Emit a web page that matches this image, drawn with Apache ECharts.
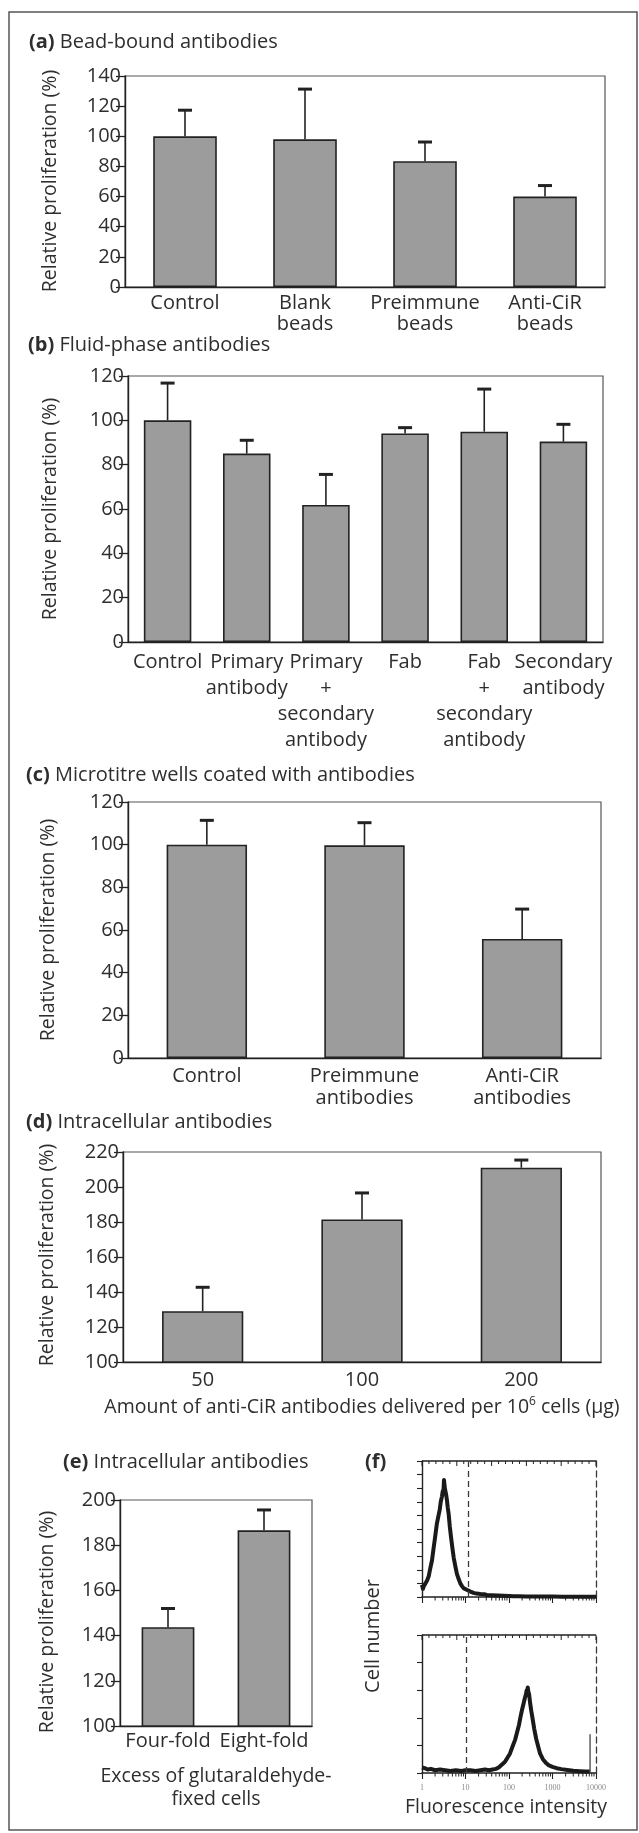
<!DOCTYPE html>
<html>
<head>
<meta charset="utf-8">
<script src="https://cdn.jsdelivr.net/npm/echarts@6.0.0/dist/echarts.min.js"></script>
<style>
  html, body { margin: 0; padding: 0; background: #ffffff; }
  #fig { width: 639px; height: 1833px; }
</style>
</head>
<body>
<div id="fig"></div>
<script>
// ---- (a) bead-bound antibodies ----
const catsA = ['Control', 'Blank\nbeads', 'Preimmune\nbeads', 'Anti-CiR\nbeads'];
const meanA = [100, 98, 83.5, 60];
const errA  = [17.3, 33.3, 12.7, 7.3];

// ---- (b) fluid-phase antibodies ----
const catsB = ['Control', 'Primary\nantibody', 'Primary\n+\nsecondary\nantibody', 'Fab', 'Fab\n+\nsecondary\nantibody', 'Secondary\nantibody'];
const meanB = [100, 85, 61.8, 94.1, 94.9, 90.4];
const errB  = [16.8, 6, 13.8, 2.6, 19.2, 7.8];

// ---- (c) microtitre wells coated with antibodies ----
const catsC = ['Control', 'Preimmune\nantibodies', 'Anti-CiR\nantibodies'];
const meanC = [100, 99.7, 55.8];
const errC  = [11.4, 10.6, 14];

// ---- (d) intracellular antibodies, dose ----
const catsD = ['50', '100', '200'];
const meanD = [129, 181.5, 211];
const errD  = [13.7, 15.1, 4.4];

// ---- (e) intracellular antibodies, fixed-cell excess ----
const catsE = ['Four-fold', 'Eight-fold'];
const meanE = [143.7, 186.6];
const errE  = [8.3, 9];

// ---- (f) flow cytometry histograms (fluorescence intensity, % of max count) ----
const fluorTopX = [1.0, 1.05, 1.1, 1.15, 1.2, 1.3, 1.42, 1.55, 1.7, 1.85, 2.0, 2.2, 2.4, 2.55, 2.7, 2.88, 3.0, 3.08, 3.14, 3.2, 3.25, 3.3, 3.35, 3.45, 3.6, 3.75, 3.9, 4.1, 4.35, 4.65, 5.0, 5.35, 5.8, 6.35, 7.0, 7.6, 8.3, 9.0, 10, 11.2, 13, 15.3, 18, 22, 27, 31, 40, 55, 75, 100, 127, 170, 250, 400, 650, 1050, 1600, 2500, 4000, 6500, 10000];
const fluorTopY = [9, 6, 8, 7, 10, 12, 15, 21, 27, 36, 44, 54, 60, 64, 70, 74, 78, 76, 80, 86, 84, 82, 80, 78, 75, 71, 66, 61, 52, 44, 36, 29, 23, 17, 13, 10, 8, 6.5, 6, 5, 4, 3, 2.5, 2.2, 2, 1.5, 1.3, 1.1, 1, 0.8, 0.6, 0.5, 0.4, 0.4, 0.3, 0.3, 0.2, 0.2, 0.2, 0.2, 0.2];
const fluorBotX = [1.0, 1.15, 1.35, 1.6, 2.0, 2.6, 3.4, 4.5, 6, 8, 10, 13, 17, 22, 28, 35, 42, 50, 58, 68, 80, 92, 105, 120, 138, 155, 170, 185, 200, 215, 230, 245, 255, 262, 270, 278, 290, 305, 325, 350, 380, 420, 470, 520, 600, 700, 830, 1000, 1250, 1600, 2200, 3000, 4200, 5800, 7200];
const fluorBotY = [4, 3.5, 2.5, 3, 2, 2.5, 2, 1.5, 2, 1.5, 2, 2, 1.5, 2, 2.5, 2, 2.5, 3, 4, 6, 8, 11, 14, 19, 24, 30, 35, 41, 46, 50, 54, 57, 60, 58, 62, 59, 57, 51, 45, 39, 32, 25, 19, 14, 10, 7.5, 5.5, 4.5, 3.5, 2.8, 2.2, 1.6, 1.3, 1, 1];
const fluorSpike = [7300, 28];          // saturated events at the top of the scale
const fluorGate = [11.5, 10.5];         // marker position in each histogram
const logMinorTicks = [2, 3, 4, 5, 6, 7, 8, 9, 20, 30, 40, 50, 60, 70, 80, 90, 200, 300, 400, 500, 600, 700, 800, 900, 2000, 3000, 4000, 5000, 6000, 7000, 8000, 9000];
const channelTickCount = 25;            // evenly spaced channel ticks along the top edge

const FONT = '"Open Sans", Lato, sans-serif';
const TXT = '#2e2e2e';
const INK = '#222222';
const BAR = '#9c9c9c';

const grids = [], xAxes = [], yAxes = [], series = [], titles = [], graphics = [];

function errorBarItem(params, api) {
  const i = api.value(0);
  const p0 = api.coord([i, api.value(1)]);
  const p1 = api.coord([i, api.value(2)]);
  return {
    type: 'group',
    children: [
      { type: 'line', shape: { x1: p0[0], y1: p0[1], x2: p1[0], y2: p1[1] }, style: { stroke: INK, lineWidth: 1.6 } },
      { type: 'line', shape: { x1: p1[0] - 7, y1: p1[1], x2: p1[0] + 7, y2: p1[1] }, style: { stroke: INK, lineWidth: 3 } }
    ]
  };
}

function addBarPanel(p) {
  const gi = grids.length;
  grids.push({ left: p.box[0], top: p.box[1], width: p.box[2], height: p.box[3],
    show: true, borderColor: '#555', borderWidth: 1.2, backgroundColor: 'transparent' });
  const xi = xAxes.length;
  const xAxis = {
    gridIndex: gi, type: 'category', data: p.cats,
    axisTick: { show: false },
    axisLine: { onZero: false, lineStyle: { color: INK, width: 1.4 } },
    axisLabel: { interval: 0, color: TXT, fontFamily: FONT, fontSize: 20, lineHeight: p.lh, margin: p.margin }
  };
  if (p.xName) {
    xAxis.name = p.xName;
    xAxis.nameLocation = 'middle';
    xAxis.nameGap = p.nameGap;
    xAxis.nameTextStyle = { color: TXT, fontFamily: FONT, fontSize: 19.5, lineHeight: 23,
      rich: { sup: { fontFamily: FONT, fontSize: 12, color: TXT, verticalAlign: 'top', lineHeight: 23 } } };
  }
  xAxes.push(xAxis);
  const yi = yAxes.length;
  yAxes.push({
    gridIndex: gi, type: 'value', min: p.y[0], max: p.y[1], interval: p.y[2],
    axisLine: { show: true, onZero: false, lineStyle: { color: INK, width: 1.4 } },
    axisTick: { show: true, length: 9, lineStyle: { color: INK, width: 1.3 } },
    axisLabel: { color: TXT, fontFamily: FONT, fontSize: 20, margin: 4 },
    splitLine: { show: false }
  });
  series.push({
    type: 'bar', xAxisIndex: xi, yAxisIndex: yi, data: p.mean, barWidth: p.bw,
    itemStyle: { color: BAR, borderColor: INK, borderWidth: 1.6 }, silent: true
  });
  series.push({
    type: 'custom', xAxisIndex: xi, yAxisIndex: yi, z: 5, silent: true,
    data: p.mean.map((m, i) => [i, m, m + p.err[i]]),
    renderItem: errorBarItem
  });
}

// short log-decade minor ticks below the intensity axis
function minorTickItem(params, api) {
  const pt = api.coord([api.value(0), 0]);
  return { type: 'line', shape: { x1: pt[0], y1: pt[1], x2: pt[0], y2: pt[1] + 3.5 }, style: { stroke: INK, lineWidth: 1 } };
}

// solid top edge of a histogram frame with inward channel ticks
function topEdgeItem(params, api) {
  const cs = params.coordSys;
  const kids = [{ type: 'line', shape: { x1: cs.x, y1: cs.y, x2: cs.x + cs.width, y2: cs.y }, style: { stroke: INK, lineWidth: 1.4 } }];
  for (let k = 0; k <= channelTickCount; k++) {
    const x = cs.x + cs.width * k / channelTickCount;
    const len = k % 5 === 0 ? 5 : 3;
    kids.push({ type: 'line', shape: { x1: x, y1: cs.y, x2: x, y2: cs.y + len }, style: { stroke: INK, lineWidth: 1 } });
  }
  return { type: 'group', children: kids };
}

function addFlowPanel(p) {
  const gi = grids.length;
  grids.push({ left: p.box[0], top: p.box[1], width: p.box[2], height: p.box[3], show: false });
  const xi = xAxes.length;
  xAxes.push({
    gridIndex: gi, type: 'log', logBase: 10, min: 1, max: 10000, position: 'bottom',
    axisLine: { show: true, onZero: false, lineStyle: { color: INK, width: 1.5 } },
    axisTick: { show: true, length: 6, lineStyle: { color: INK, width: 1.1 } },
    axisLabel: p.labels
      ? { show: true, fontSize: 8, color: '#8a8a8a', fontFamily: '"Liberation Serif", serif', margin: 11,
          formatter: v => String(Math.round(v)) }
      : { show: false },
    splitLine: { show: false }
  });
  const yi = yAxes.length;
  yAxes.push({
    gridIndex: gi, type: 'value', min: 0, max: 100, interval: p.yInterval, position: 'left',
    axisLine: { show: true, onZero: false, lineStyle: { color: INK, width: 1.4 } },
    axisTick: { show: true, length: 5, lineStyle: { color: INK, width: 1.1 } },
    axisLabel: { show: false }, splitLine: { show: false }
  });
  yAxes.push({
    gridIndex: gi, type: 'value', min: 0, max: 100, position: 'right',
    axisLine: { show: true, onZero: false, lineStyle: { color: '#3a3a3a', width: 1.3, type: [6, 4] } },
    axisTick: { show: false }, axisLabel: { show: false }, splitLine: { show: false }
  });
  series.push({
    type: 'line', xAxisIndex: xi, yAxisIndex: yi, showSymbol: false, silent: true,
    data: p.xs.map((x, i) => [x, p.ys[i]]),
    lineStyle: { color: '#1a1a1a', width: 4, join: 'round' },
    markLine: {
      silent: true, symbol: ['none', 'none'], label: { show: false },
      lineStyle: { color: '#3a3a3a', width: 1.3, type: [6, 4] },
      data: [{ xAxis: p.gate }]
    }
  });
  series.push({
    type: 'custom', xAxisIndex: xi, yAxisIndex: yi, silent: true,
    data: logMinorTicks.map(v => [v]), renderItem: minorTickItem
  });
  series.push({
    type: 'custom', xAxisIndex: xi, yAxisIndex: yi, silent: true,
    data: [[1, 100]], renderItem: topEdgeItem
  });
  if (p.spike) {
    series.push({
      type: 'line', xAxisIndex: xi, yAxisIndex: yi, showSymbol: false, silent: true,
      data: [[p.spike[0], 0], [p.spike[0], p.spike[1]]],
      lineStyle: { color: '#333', width: 1.2 }
    });
  }
}

function panelTitle(tag, text, x, cy) {
  titles.push({
    text: '{b|' + tag + '}' + (text ? ' ' + text : ''),
    left: x, top: cy - 13, padding: 0,
    textStyle: { fontFamily: FONT, fontSize: 20, fontWeight: 'normal', color: TXT, lineHeight: 26,
      rich: { b: { fontFamily: FONT, fontSize: 20, fontWeight: 'bold', color: TXT, lineHeight: 26 } } }
  });
}

function label(text, x, y, size, rotate) {
  graphics.push({
    type: 'text', x: x, y: y, rotation: rotate ? Math.PI / 2 : 0, silent: true,
    style: { text: text, font: size + 'px ' + FONT, fill: TXT, align: 'center', verticalAlign: 'middle' }
  });
}

addBarPanel({ box: [125, 76, 480, 211], cats: catsA, mean: meanA, err: errA, y: [0, 140, 20], lh: 21, margin: 6, bw: '53%' });
addBarPanel({ box: [128, 376, 475, 266], cats: catsB, mean: meanB, err: errB, y: [0, 120, 20], lh: 26, margin: 7, bw: '60%' });
addBarPanel({ box: [128, 802, 473, 256], cats: catsC, mean: meanC, err: errC, y: [0, 120, 20], lh: 22, margin: 7, bw: '51%' });
addBarPanel({ box: [123, 1152, 478, 210], cats: catsD, mean: meanD, err: errD, y: [100, 220, 20], lh: 20, margin: 8, bw: '51%',
  xName: 'Amount of anti-CiR antibodies delivered per 10{sup|6} cells (μg)', nameGap: 34 });
addBarPanel({ box: [120, 1500, 192, 226], cats: catsE, mean: meanE, err: errE, y: [100, 200, 20], lh: 20, margin: 5, bw: '55%',
  xName: 'Excess of glutaraldehyde-\nfixed cells', nameGap: 39 });

addFlowPanel({ box: [422, 1461, 174, 136], xs: fluorTopX, ys: fluorTopY, gate: fluorGate[0], yInterval: 10, labels: false });
addFlowPanel({ box: [422, 1635, 174, 138], xs: fluorBotX, ys: fluorBotY, gate: fluorGate[1], yInterval: 20, labels: true, spike: fluorSpike });

panelTitle('(a)', 'Bead-bound antibodies', 29, 42);
panelTitle('(b)', 'Fluid-phase antibodies', 28, 345);
panelTitle('(c)', 'Microtitre wells coated with antibodies', 26, 775);
panelTitle('(d)', 'Intracellular antibodies', 26, 1122);
panelTitle('(e)', 'Intracellular antibodies', 63, 1462);
panelTitle('(f)', '', 365, 1462);

label('Relative proliferation (%)', 50, 181, 19.5, true);
label('Relative proliferation (%)', 50, 509, 19.5, true);
label('Relative proliferation (%)', 48, 930, 19.5, true);
label('Relative proliferation (%)', 47, 1255, 19.5, true);
label('Relative proliferation (%)', 47, 1622, 19.5, true);
label('Cell number', 373, 1636, 20, true);
label('Fluorescence intensity', 506, 1807, 19.5, false);

// outer frame of the figure
graphics.push({ type: 'rect', silent: true, z: -1,
  shape: { x: 9, y: 12, width: 628, height: 1818 },
  style: { fill: 'none', stroke: '#555', lineWidth: 1.5 } });

const chart = echarts.init(document.getElementById('fig'), null, { renderer: 'canvas' });
chart.setOption({
  animation: false,
  backgroundColor: '#ffffff',
  title: titles,
  grid: grids,
  xAxis: xAxes,
  yAxis: yAxes,
  series: series,
  graphic: graphics
});
</script>
</body>
</html>
